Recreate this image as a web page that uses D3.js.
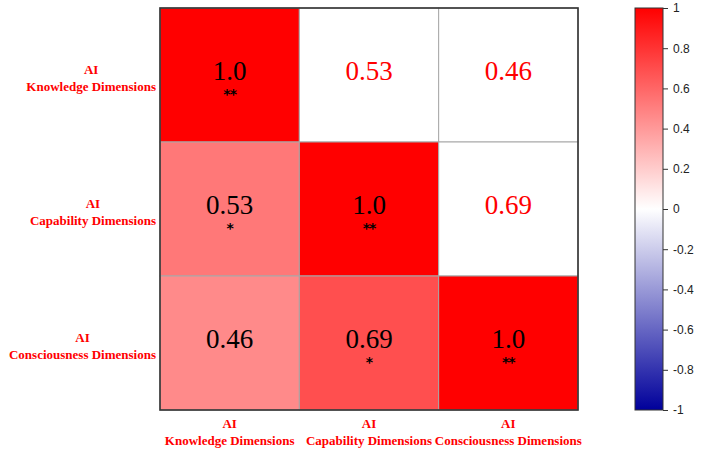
<!DOCTYPE html>
<html><head><meta charset="utf-8">
<script src="https://cdn.jsdelivr.net/npm/d3@7"></script>
<style>body{margin:0;background:#fff}</style>
</head><body>
<svg id="c" width="718" height="452"></svg>
<script>
const categories = ["Knowledge Dimensions", "Capability Dimensions", "Consciousness Dimensions"];
const labelPrefix = "AI";
const matrix = [
  [1.0, 0.53, 0.46],
  [0.53, 1.0, 0.69],
  [0.46, 0.69, 1.0]
];
const valueText = [
  ["1.0", "0.53", "0.46"],
  ["0.53", "1.0", "0.69"],
  ["0.46", "0.69", "1.0"]
];
const stars = [
  ["**", "", ""],
  ["*", "**", ""],
  ["", "*", "**"]
];
const colorTicks = [1, 0.8, 0.6, 0.4, 0.2, 0, -0.2, -0.4, -0.6, -0.8, -1];

const svg = d3.select("#c");
const grid = {x0: 160, x1: 578, y0: 8, y1: 410};
const x = d3.scaleBand().domain(d3.range(3)).range([grid.x0, grid.x1]);
const y = d3.scaleBand().domain(d3.range(3)).range([grid.y0, grid.y1]);
const color = d3.scaleLinear().domain([-1, 0, 1]).range(["#00009b", "#ffffff", "#ff0000"]);

const cells = [];
matrix.forEach((row, i) => row.forEach((v, j) => cells.push({i, j, v})));

svg.append("g").selectAll("rect").data(cells).join("rect")
  .attr("x", d => x(d.j)).attr("y", d => y(d.i))
  .attr("width", x.bandwidth()).attr("height", y.bandwidth())
  .attr("fill", d => d.j <= d.i ? color(d.v) : "#ffffff")
  .attr("stroke", "#a8a8a8").attr("stroke-width", 1);

svg.append("rect").attr("x", grid.x0).attr("y", grid.y0)
  .attr("width", grid.x1 - grid.x0).attr("height", grid.y1 - grid.y0)
  .attr("fill", "none").attr("stroke", "#333").attr("stroke-width", 1.6);

const tg = svg.append("g").attr("font-family", "'Liberation Serif', 'Times New Roman', serif");
cells.forEach(d => {
  const cx = x(d.j) + x.bandwidth() / 2;
  const cy = y(d.i) + y.bandwidth() / 2;
  const s = stars[d.i][d.j];
  const lower = d.j <= d.i;
  tg.append("text").attr("x", cx).attr("y", cy - 4)
    .attr("text-anchor", "middle").attr("dominant-baseline", "central")
    .attr("font-size", 27).attr("fill", lower ? "#000" : "#ff0000")
    .text(valueText[d.i][d.j]);
  if (s) {
    tg.append("text").attr("x", cx).attr("y", cy + 24)
      .attr("text-anchor", "middle")
      .attr("font-family", "'DejaVu Sans', sans-serif").attr("font-weight", "bold")
      .attr("letter-spacing", "-1")
      .attr("font-size", 14).attr("fill", "#000").text(s);
  }
});

// Y labels
const yl = svg.append("g").attr("font-family", "'Liberation Serif', 'Times New Roman', serif")
  .attr("font-weight", "bold").attr("font-size", 13).attr("fill", "#ff0000");
categories.forEach((c, i) => {
  const cy = y(i) + y.bandwidth() / 2;
  const g = yl.append("g");
  const t2 = g.append("text").attr("y", cy + 16).attr("text-anchor", "middle").text(c);
  const w = t2.node().getComputedTextLength();
  const cx = 156 - w / 2;
  t2.attr("x", cx);
  g.append("text").attr("x", cx).attr("y", cy - 1).attr("text-anchor", "middle").text(labelPrefix);
});

// X labels
const xl = svg.append("g").attr("font-family", "'Liberation Serif', 'Times New Roman', serif")
  .attr("font-weight", "bold").attr("font-size", 13).attr("fill", "#ff0000");
categories.forEach((c, j) => {
  const cx = x(j) + x.bandwidth() / 2;
  xl.append("text").attr("x", cx).attr("y", 428).attr("text-anchor", "middle").text(labelPrefix);
  xl.append("text").attr("x", cx).attr("y", 445).attr("text-anchor", "middle").text(c);
});

// Colorbar
const cb = {x: 635, w: 28, y0: 8, y1: 410};
const cbScale = d3.scaleLinear().domain([1, -1]).range([cb.y0, cb.y1]);
const defs = svg.append("defs");
const grad = defs.append("linearGradient").attr("id", "cbg")
  .attr("x1", 0).attr("y1", 0).attr("x2", 0).attr("y2", 1);
d3.range(0, 21).forEach(k => {
  const v = 1 - k / 10;
  grad.append("stop").attr("offset", (k / 20 * 100) + "%").attr("stop-color", color(v));
});
svg.append("rect").attr("x", cb.x).attr("y", cb.y0).attr("width", cb.w).attr("height", cb.y1 - cb.y0)
  .attr("fill", "url(#cbg)").attr("stroke", "#333").attr("stroke-width", 1);

const axis = d3.axisRight(cbScale).tickValues(colorTicks).tickSize(5).tickPadding(5)
  .tickFormat(d => String(d));
const ag = svg.append("g").attr("transform", `translate(${cb.x + cb.w},0)`).call(axis);
ag.select(".domain").remove();
ag.selectAll("line").attr("stroke", "#333");
ag.selectAll("text").attr("font-family", "'Liberation Sans', Arial, sans-serif")
  .attr("font-size", 12).attr("fill", "#222");
</script>
</body></html>
